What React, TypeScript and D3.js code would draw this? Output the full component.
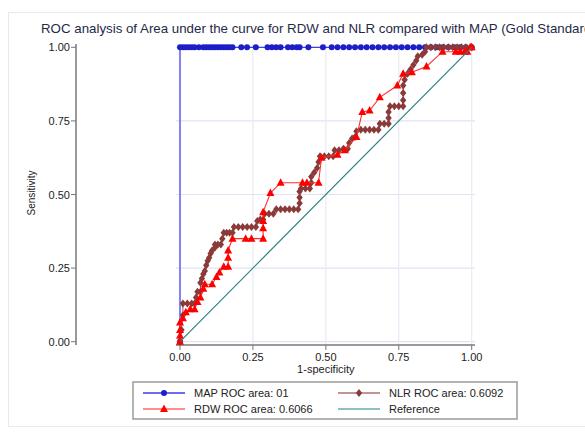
import React from "react";
import * as d3 from "d3";

const title = "ROC analysis of Area under the curve for RDW and NLR compared with MAP (Gold Standard)";
const xTicks = [0, 0.25, 0.5, 0.75, 1];
const yTicks = [0, 0.25, 0.5, 0.75, 1];

// MAP (gold standard): vertical at x=0 then along sensitivity = 1
const mapX = [0, 0, 0.01, 0.02, 0.03, 0.04, 0.05, 0.065, 0.08, 0.09, 0.10, 0.11, 0.12, 0.13, 0.14, 0.15, 0.16, 0.17, 0.18, 0.21, 0.23, 0.26, 0.30, 0.315, 0.33, 0.345, 0.37, 0.385, 0.40, 0.41, 0.44, 0.49, 0.52, 0.54, 0.56, 0.58, 0.60, 0.62, 0.64, 0.66, 0.68, 0.70, 0.72, 0.74, 0.76, 0.78, 0.80, 0.82, 0.84, 0.86, 0.88, 0.90, 0.92, 0.94, 0.96, 0.98, 1.0];
const mapY = [0, 1, 1, 1, 1, 1, 1, 1, 1, 1, 1, 1, 1, 1, 1, 1, 1, 1, 1, 1, 1, 1, 1, 1, 1, 1, 1, 1, 1, 1, 1, 1, 1, 1, 1, 1, 1, 1, 1, 1, 1, 1, 1, 1, 1, 1, 1, 1, 1, 1, 1, 1, 1, 1, 1, 1, 1];

// NLR
const nlrPts: [number, number][] = [
  [0, 0], [0.005, 0.04], [0.01, 0.09], [0.01, 0.13], [0.025, 0.13], [0.04, 0.13], [0.05, 0.13],
  [0.055, 0.15], [0.06, 0.17], [0.07, 0.17],
  [0.07, 0.20], [0.075, 0.215], [0.08, 0.23], [0.085, 0.24],
  [0.09, 0.26], [0.095, 0.275], [0.10, 0.285],
  [0.105, 0.30], [0.11, 0.31], [0.12, 0.32],
  [0.12, 0.33], [0.13, 0.33], [0.14, 0.33],
  [0.145, 0.35], [0.15, 0.37], [0.16, 0.37], [0.17, 0.37], [0.18, 0.37],
  [0.185, 0.39], [0.20, 0.39], [0.215, 0.39], [0.23, 0.39], [0.245, 0.39], [0.26, 0.39],
  [0.265, 0.41], [0.275, 0.415], [0.285, 0.415],
  [0.29, 0.435], [0.305, 0.435], [0.32, 0.435],
  [0.33, 0.45], [0.345, 0.45], [0.36, 0.45], [0.375, 0.45], [0.39, 0.45], [0.405, 0.45],
  [0.41, 0.47], [0.41, 0.49], [0.41, 0.51],
  [0.415, 0.52], [0.43, 0.52], [0.445, 0.52],
  [0.45, 0.54], [0.45, 0.56],
  [0.46, 0.575], [0.47, 0.59], [0.475, 0.61],
  [0.48, 0.63], [0.495, 0.63], [0.51, 0.63], [0.525, 0.63],
  [0.53, 0.65], [0.545, 0.65], [0.56, 0.655], [0.575, 0.655],
  [0.58, 0.675], [0.59, 0.69], [0.60, 0.695],
  [0.605, 0.715], [0.62, 0.72], [0.635, 0.72], [0.65, 0.72], [0.665, 0.72], [0.68, 0.72],
  [0.685, 0.74], [0.70, 0.74], [0.715, 0.74],
  [0.715, 0.76], [0.715, 0.78], [0.72, 0.80], [0.735, 0.80], [0.75, 0.80], [0.765, 0.80],
  [0.765, 0.82], [0.765, 0.845], [0.765, 0.87], [0.77, 0.89],
  [0.78, 0.91], [0.79, 0.925], [0.80, 0.94], [0.81, 0.955],
  [0.815, 0.97], [0.83, 0.975], [0.84, 0.985],
  [0.845, 1], [0.86, 1], [0.875, 1], [0.89, 1], [0.905, 1], [0.92, 1], [0.935, 1], [0.95, 1], [0.965, 1], [0.98, 1], [1, 1],
];

// RDW
const rdwPts: [number, number][] = [
  [0, 0], [0, 0.02], [0, 0.04], [0, 0.065], [0.01, 0.08], [0.02, 0.10], [0.035, 0.11], [0.05, 0.11],
  [0.06, 0.135], [0.07, 0.15], [0.08, 0.18], [0.085, 0.195], [0.11, 0.195],
  [0.125, 0.22], [0.135, 0.235], [0.15, 0.255], [0.165, 0.255], [0.165, 0.285], [0.165, 0.31],
  [0.18, 0.35], [0.225, 0.35], [0.245, 0.35], [0.285, 0.35], [0.285, 0.385], [0.285, 0.41], [0.285, 0.44],
  [0.31, 0.505], [0.345, 0.54], [0.42, 0.54], [0.435, 0.54], [0.475, 0.54],
  [0.485, 0.625], [0.54, 0.635], [0.565, 0.65], [0.605, 0.695], [0.625, 0.78], [0.65, 0.785],
  [0.685, 0.83], [0.745, 0.87], [0.765, 0.91], [0.795, 0.915], [0.845, 0.935],
  [0.90, 0.985], [0.945, 0.985], [0.96, 0.985], [0.975, 0.985], [0.985, 0.985], [0.995, 1], [1, 1],
];

const refPts: [number, number][] = [[0, 0], [1, 1]];

const legendItems = [
  { label: "MAP ROC area: 01", kind: "circle", color: "#1e1ec8", line: "#3c3cf0" },
  { label: "NLR ROC area: 0.6092", kind: "diamond", color: "#8b3a3a", line: "#b07070" },
  { label: "RDW ROC area: 0.6066", kind: "triangle", color: "#ff0000", line: "#ff6a6a" },
  { label: "Reference", kind: "none", color: "#2e7f7f", line: "#6aabab" },
];

const FONT = "'Liberation Sans', Arial, Helvetica, sans-serif";

const diamond = "M0,-4 L3.2,0 L0,4 L-3.2,0 Z";
const triangle = "M0,-4.5 L4,3 L-4,3 Z";

function Marker({ kind, x, y, color }: { kind: string; x: number; y: number; color: string }) {
  if (kind === "circle") return <circle cx={x} cy={y} r={3} fill={color} />;
  if (kind === "diamond") return <path d={diamond} transform={`translate(${x},${y})`} fill={color} />;
  if (kind === "triangle") return <path d={triangle} transform={`translate(${x},${y})`} fill={color} />;
  return null;
}

export default function App() {
  const x = d3.scaleLinear().domain([0, 1]).range([180, 471.7]);
  const y = d3.scaleLinear().domain([0, 1]).range([341.7, 47.3]);
  const line = d3.line<[number, number]>().x((d) => x(d[0])).y((d) => y(d[1]));
  const mapPts: [number, number][] = mapX.map((v, i) => [v, mapY[i]]);

  const gridL = 176, gridR = 475, gridT = 44, axisY = 345, yAxisX = 76;

  return (
    <svg width={585} height={432} style={{ position: "absolute", left: 0, top: 0, background: "#fff" }} fontFamily={FONT}>
      <rect x={8.5} y={12.5} width={600} height={414} fill="none" stroke="#e3ebf1" strokeWidth={1} />
      <text x={41} y={33} fontSize={13.3} fill="#1f2a48">{title}</text>

      {/* grid */}
      {yTicks.map((t) => (
        <line key={"gy" + t} x1={gridL} x2={gridR} y1={y(t)} y2={y(t)} stroke="#dfe4f2" strokeWidth={1.2} />
      ))}
      {xTicks.map((t) => (
        <line key={"gx" + t} x1={x(t)} x2={x(t)} y1={gridT} y2={axisY} stroke="#e6eaf4" strokeWidth={1.2} />
      ))}

      {/* y axis */}
      <line x1={yAxisX} x2={yAxisX} y1={gridT} y2={axisY} stroke="#9a9a9a" strokeWidth={2} />
      {yTicks.map((t) => (
        <g key={"yt" + t}>
          <line x1={yAxisX - 5} x2={yAxisX} y1={y(t)} y2={y(t)} stroke="#777" strokeWidth={1} />
          <text x={yAxisX - 6} y={y(t) + 4} fontSize={11} textAnchor="end" fill="#222">{t.toFixed(2)}</text>
        </g>
      ))}
      <text transform={`translate(35,193) rotate(-90)`} fontSize={10} textAnchor="middle" fill="#222">Sensitivity</text>

      {/* x axis */}
      <line x1={gridL} x2={gridR} y1={axisY} y2={axisY} stroke="#9a9a9a" strokeWidth={2} />
      {xTicks.map((t) => (
        <g key={"xt" + t}>
          <line x1={x(t)} x2={x(t)} y1={axisY} y2={axisY + 5} stroke="#777" strokeWidth={1} />
          <text x={x(t)} y={axisY + 16} fontSize={11} textAnchor="middle" fill="#222">{t.toFixed(2)}</text>
        </g>
      ))}
      <text x={(x(0) + x(1)) / 2} y={373} fontSize={11} textAnchor="middle" fill="#222">1-specificity</text>

      {/* MAP */}
      <path d={line(mapPts) || ""} fill="none" stroke="#3c3cf0" strokeWidth={1.2} />
      {mapPts.map((p, i) => (
        <circle key={"m" + i} cx={x(p[0])} cy={y(p[1])} r={3} fill="#1e1ec8" />
      ))}

      {/* NLR */}
      <path d={line(nlrPts) || ""} fill="none" stroke="#9a4a4a" strokeWidth={1} />
      {nlrPts.map((p, i) => (
        <path key={"n" + i} d={diamond} transform={`translate(${x(p[0])},${y(p[1])})`} fill="#8b3a3a" />
      ))}

      {/* RDW */}
      <path d={line(rdwPts) || ""} fill="none" stroke="#ff3030" strokeWidth={1.1} />
      {rdwPts.map((p, i) => (
        <path key={"r" + i} d={triangle} transform={`translate(${x(p[0])},${y(p[1])})`} fill="#ff0000" />
      ))}

      {/* Reference */}
      <path d={line(refPts) || ""} fill="none" stroke="#2e7f7f" strokeWidth={1.2} />

      {/* legend */}
      <rect x={133} y={382} width={384} height={37} fill="#fff" stroke="#9a9a9a" strokeWidth={1.5} />
      {legendItems.map((it, i) => {
        const col = i % 2;
        const row = Math.floor(i / 2);
        const kx = col === 0 ? 143 : 338;
        const ky = row === 0 ? 393 : 409;
        return (
          <g key={"l" + i}>
            <line x1={kx} x2={kx + 42} y1={ky} y2={ky} stroke={it.line} strokeWidth={1.5} />
            <Marker kind={it.kind} x={kx + 21} y={ky} color={it.color} />
            <text x={kx + 51} y={ky + 4} fontSize={11} fill="#222">{it.label}</text>
          </g>
        );
      })}
    </svg>
  );
}
